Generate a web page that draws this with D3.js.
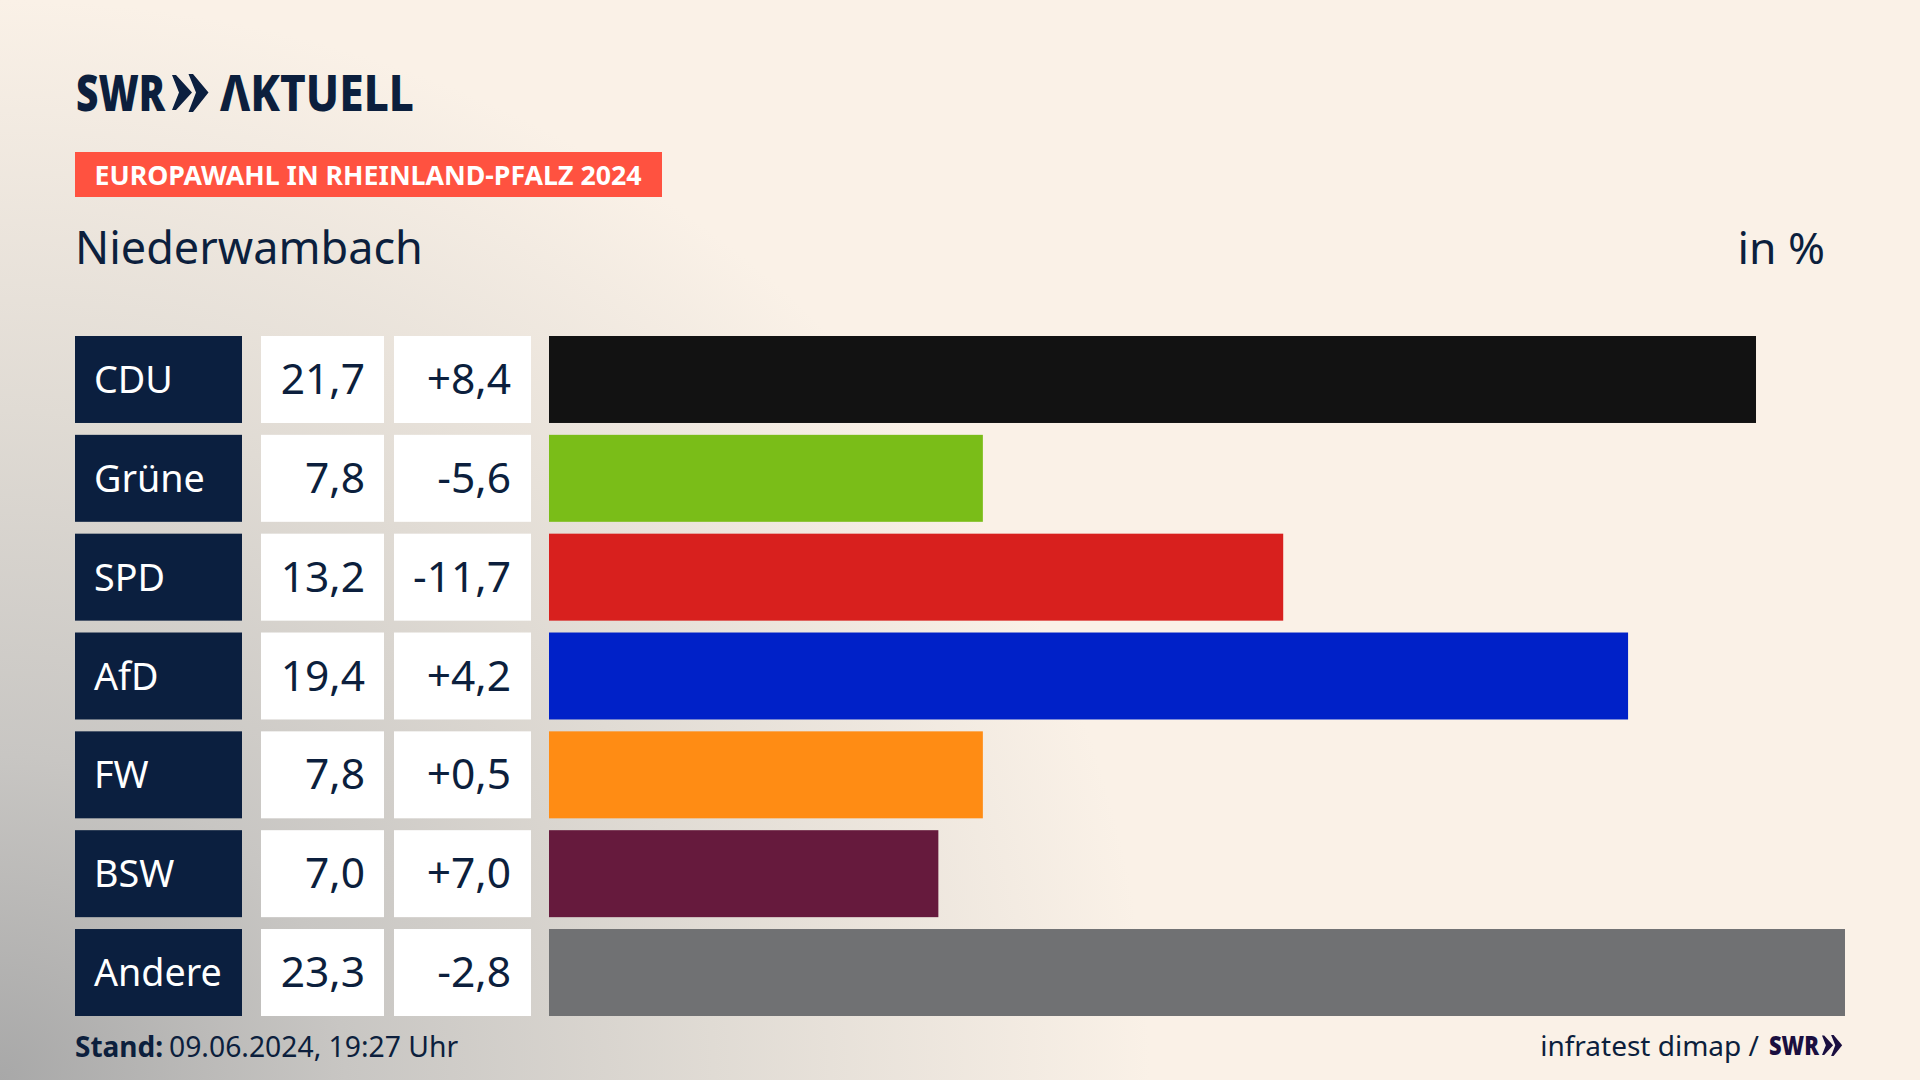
<!DOCTYPE html>
<html>
<head>
<meta charset="utf-8">
<script src="https://cdnjs.cloudflare.com/ajax/libs/d3/7.8.5/d3.min.js"></script>
<style>
  html, body { margin: 0; padding: 0; }
  body {
    width: 1920px; height: 1080px; overflow: hidden;
    background: radial-gradient(ellipse 1150px 1080px at 0% 100%, #a8a8a8 0%, #c8c6c3 30%, #e0dbd4 62%, #faf1e7 100%) #faf1e7;
  }
  svg { display: block; }
  text { font-family: "Noto Sans", sans-serif; fill: #0c1f3d; }
</style>
</head>
<body>
<div id="chart"></div>
<script>
// data
var parties = ["CDU", "Grüne", "SPD", "AfD", "FW", "BSW", "Andere"];
var shares  = [21.7, 7.8, 13.2, 19.4, 7.8, 7.0, 23.3];
var changes = [8.4, -5.6, -11.7, 4.2, 0.5, 7.0, -2.8];

var barColours = ["#121212", "#7abd18", "#d8201e", "#0021c8", "#ff8c14", "#661a3d", "#707173"];

var navy = "#0b1f3f";

var svg = d3.select("#chart").append("svg")
    .attr("width", 1920)
    .attr("height", 1080);

var rows = d3.scaleBand().domain(parties).range([336, 1016]).paddingInner(0.12);
var x = d3.scaleLinear().domain([0, 23.3]).range([549, 1845]);
var colour = d3.scaleOrdinal().domain(parties).range(barColours);

// German number format with comma
var deFormat = d3.formatLocale({ decimal: ",", thousands: ".", grouping: [3], currency: ["", " €"], minus: "-" });
var fmtShare = deFormat.format(".1f");
var fmtChange = deFormat.format("+.1f");

// draws the two SWR chevrons, h is the height of the pair
function chevrons(g, px, py, h, fill) {
    var s = h / 38;
    g.append("path")
        .attr("transform", "translate(" + px + "," + py + ") scale(" + s + ")")
        .attr("fill", fill)
        .attr("d", "M0,1 L4,1 L20,18.5 L4,36 L0,36 L7,18.5 Z M16.5,0 L21,0 L36.5,18.5 L21,38 L16.5,38 L24,18.5 Z");
}

/************* HEADER ***********************/
svg.append("text").attr("x", 76).attr("y", 110.5)
    .attr("font-size", 49).attr("font-weight", 900)
    .attr("textLength", 89).attr("lengthAdjust", "spacingAndGlyphs")
    .text("SWR");
chevrons(svg, 172, 74, 38, navy);
svg.append("text").attr("x", 220).attr("y", 110.5)
    .attr("font-size", 49).attr("font-weight", 800)
    .attr("textLength", 194).attr("lengthAdjust", "spacingAndGlyphs")
    .text("ΛKTUELL");

svg.append("rect").attr("x", 75).attr("y", 152).attr("width", 587).attr("height", 45).attr("fill", "#ff5240");
svg.append("text").attr("x", 94.5).attr("y", 184.5)
    .attr("font-size", 27).attr("font-weight", 700)
    .attr("textLength", 547).attr("lengthAdjust", "spacingAndGlyphs")
    .style("fill", "#fff")
    .text("EUROPAWAHL IN RHEINLAND-PFALZ 2024");

svg.append("text").attr("x", 75).attr("y", 264).attr("font-size", 45).text("Niederwambach");
svg.append("text").attr("x", 1825).attr("y", 264).attr("font-size", 44.5)
    .attr("text-anchor", "end").text("in %");

/************* ROWS ***********************/
var row = svg.selectAll("g.row").data(parties).enter().append("g")
    .attr("class", "row")
    .attr("transform", function(d){ return "translate(0," + rows(d) + ")"; });

row.append("rect").attr("x", 75).attr("width", 167).attr("height", rows.bandwidth()).attr("fill", navy);
row.append("rect").attr("x", 261).attr("width", 123).attr("height", rows.bandwidth()).attr("fill", "#fff");
row.append("rect").attr("x", 394).attr("width", 137).attr("height", rows.bandwidth()).attr("fill", "#fff");

row.append("rect")
    .attr("x", x(0))
    .attr("width", function(d, i){ return x(shares[i]) - x(0); })
    .attr("height", rows.bandwidth())
    .attr("fill", function(d){ return colour(d); });

row.append("text")
    .attr("x", 94).attr("y", 57).attr("font-size", 37.7)
    .style("fill", "#fff")
    .text(function(d){ return d; });

row.append("text")
    .attr("x", 365).attr("y", 58).attr("font-size", 42.5).attr("text-anchor", "end")
    .text(function(d, i){ return fmtShare(shares[i]); });

row.append("text")
    .attr("x", 511).attr("y", 58).attr("font-size", 42.5).attr("text-anchor", "end")
    .text(function(d, i){ return fmtChange(changes[i]); });

/************* FOOTER ***********************/
svg.append("text").attr("x", 75).attr("y", 1056.5).attr("font-size", 28).attr("font-weight", 700)
    .text("Stand:");
svg.append("text").attr("x", 169).attr("y", 1056.5).attr("font-size", 28.3)
    .text("09.06.2024, 19:27 Uhr");

svg.append("text").attr("x", 1759).attr("y", 1055.5).attr("font-size", 28).attr("text-anchor", "end")
    .text("infratest dimap /");
svg.append("text").attr("x", 1769).attr("y", 1055).attr("font-size", 27).attr("font-weight", 900)
    .attr("textLength", 50).attr("lengthAdjust", "spacingAndGlyphs")
    .style("fill", "#1a0f40")
    .text("SWR");
chevrons(svg, 1822, 1035, 21, "#1a0f40");
</script>
</body>
</html>
